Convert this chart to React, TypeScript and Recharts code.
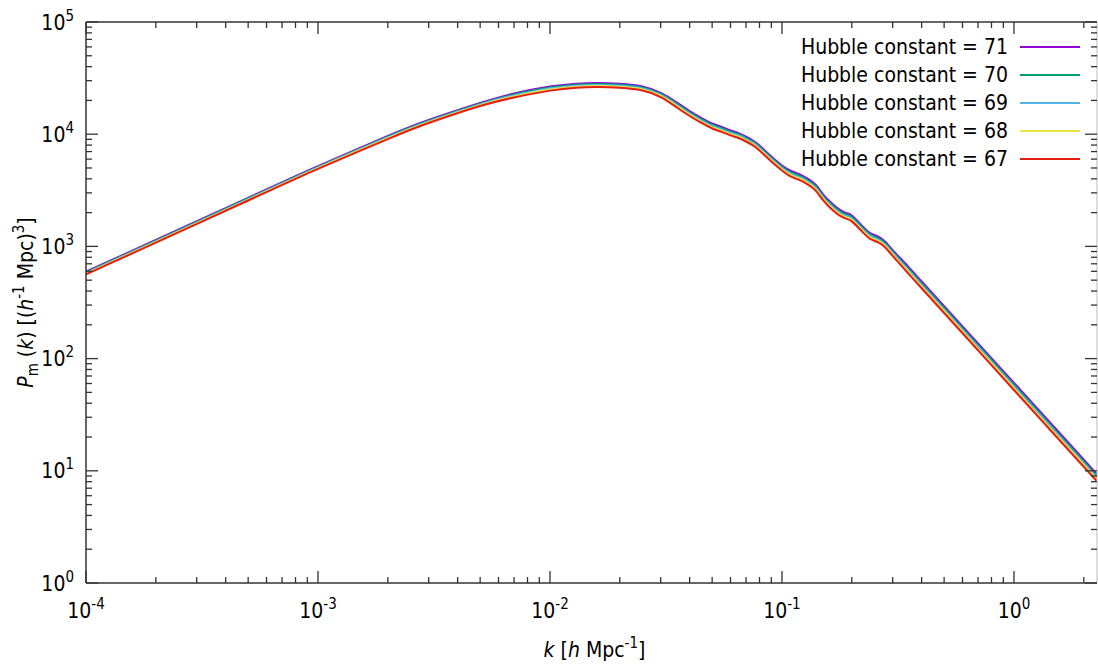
import React from "react";
import { LineChart, Line, XAxis, YAxis, Legend, Label } from "recharts";

// wavenumber k [h/Mpc]
const kValues = [
  1e-4, 2e-4, 5e-4, 1e-3, 2e-3, 3e-3, 5e-3, 7e-3, 1e-2, 1.3e-2, 1.6e-2, 2e-2,
  2.5e-2, 3e-2, 3.5e-2, 4e-2, 4.5e-2, 5e-2, 5.5e-2, 6e-2, 6.5e-2, 7e-2, 7.5e-2,
  8e-2, 9e-2, 0.1, 0.11, 0.12, 0.13, 0.14, 0.15, 0.16, 0.17, 0.18, 0.19, 0.2,
  0.22, 0.24, 0.26, 0.28, 0.3, 0.35, 0.4, 0.5, 0.7, 1.0, 1.5, 2.28,
];

// P_m(k) for each Hubble constant
const pk71 = [
  595, 1140, 2710, 5188, 9652, 13410, 19000, 23070, 26570, 28200, 28610, 28140,
  26630, 23310, 19360, 16090, 13930, 12450, 11590, 10790, 10230, 9528, 8791,
  7926, 6325, 5260, 4688, 4365, 3981, 3524, 2924, 2535, 2265, 2084, 1981, 1883,
  1549, 1315, 1222, 1091, 926.9, 660.3, 486.2, 292.8, 136.3, 60.83, 24.17, 9.34,
];
const pk70 = [
  587, 1124, 2673, 5117, 9497, 13190, 18700, 22590, 26020, 27630, 28020, 27560,
  26080, 22830, 18870, 15680, 13580, 12130, 11300, 10520, 9977, 9290, 8571,
  7728, 6167, 5129, 4550, 4236, 3864, 3420, 2838, 2461, 2198, 2023, 1923, 1828,
  1503, 1277, 1186, 1059, 899.5, 637.8, 469.7, 282.9, 131.7, 58.63, 23.29, 9.01,
];
const pk69 = [
  579, 1109, 2636, 5047, 9345, 12980, 18400, 22130, 25490, 27060, 27450, 27000,
  25550, 22360, 18400, 15290, 13240, 11830, 11020, 10260, 9727, 9057, 8356,
  7534, 6012, 5000, 4416, 4111, 3750, 3319, 2754, 2388, 2133, 1963, 1866, 1774,
  1459, 1239, 1151, 1028, 873, 616.2, 453.8, 273.3, 127.2, 56.51, 22.45, 8.68,
];
const pk68 = [
  571, 1094, 2600, 4978, 9195, 12770, 18110, 21680, 24970, 26510, 26890, 26450,
  25030, 21900, 17940, 14910, 12910, 11530, 10740, 10000, 9484, 8831, 8147,
  7346, 5862, 4875, 4286, 3990, 3639, 3221, 2673, 2318, 2070, 1905, 1811, 1722,
  1416, 1202, 1117, 997.7, 847.2, 595.3, 438.4, 264.0, 122.9, 54.46, 21.64, 8.37,
];
const pk67 = [
  563, 1079, 2564, 4909, 9049, 12570, 17820, 21230, 24450, 25960, 26340, 25900,
  24510, 21450, 17490, 14530, 12590, 11250, 10480, 9753, 9246, 8610, 7943,
  7162, 5715, 4753, 4159, 3872, 3532, 3126, 2594, 2249, 2009, 1849, 1758, 1671,
  1374, 1167, 1084, 968.3, 822.3, 575.1, 423.5, 255.1, 118.7, 52.5, 20.86, 8.06,
];

const hubble = [71, 70, 69, 68, 67];
const seriesKeys = ["h71", "h70", "h69", "h68", "h67"];
const colors = ["#9400d3", "#009e73", "#56b4e9", "#f0e442", "#e51e10"];

const xMajor = [1e-4, 1e-3, 1e-2, 1e-1, 1];
const xMajorExp = ["-4", "-3", "-2", "-1", "0"];
const yMajor = [1, 10, 100, 1e3, 1e4, 1e5];
const yMajorExp = ["0", "1", "2", "3", "4", "5"];
const minorSteps = [2, 3, 4, 5, 6, 7, 8, 9];

const X_MAX = 2.28;

const data = kValues.map((k, i) => ({
  k,
  h71: pk71[i],
  h70: pk70[i],
  h69: pk69[i],
  h68: pk68[i],
  h67: pk67[i],
}));

const withMinor = (majors: number[], max: number) => {
  const out: number[] = [];
  majors.forEach((m) => {
    out.push(m);
    minorSteps.forEach((s) => {
      if (m * s <= max) out.push(m * s);
    });
  });
  return out.filter((v) => v <= max);
};

const xTicks = withMinor(xMajor, X_MAX);
const yTicks = withMinor(yMajor, 1e5);

const FONT = "'DejaVu Sans Condensed', 'DejaVu Sans', sans-serif";
const AXIS = "#333";

const majorIndex = (v: number, list: number[]) =>
  list.findIndex((m) => Math.abs(m - v) / m < 1e-9);

function BottomTick({ x, y, payload }: any) {
  const i = majorIndex(payload.value, xMajor);
  const len = i >= 0 ? 12 : 6;
  return (
    <g>
      <line x1={x} y1={y} x2={x} y2={y - len} stroke={AXIS} strokeWidth={1.3} />
      {i >= 0 && (
        <text x={x} y={y + 35} textAnchor="middle" fontFamily={FONT} fontSize={21} fill="#000" style={{ fontStretch: "condensed" }}>
          10
          <tspan dy={-9} fontSize={15}>
            {xMajorExp[i]}
          </tspan>
        </text>
      )}
    </g>
  );
}

function TopTick({ x, y, payload }: any) {
  const len = majorIndex(payload.value, xMajor) >= 0 ? 12 : 6;
  return <line x1={x} y1={y} x2={x} y2={y + len} stroke={AXIS} strokeWidth={1.3} />;
}

function LeftTick({ x, y, payload }: any) {
  const i = majorIndex(payload.value, yMajor);
  const len = i >= 0 ? 12 : 6;
  return (
    <g>
      <line x1={x} y1={y} x2={x + len} y2={y} stroke={AXIS} strokeWidth={1.3} />
      {i >= 0 && (
        <text x={x - 12} y={y + 7.5} textAnchor="end" fontFamily={FONT} fontSize={21} fill="#000" style={{ fontStretch: "condensed" }}>
          10
          <tspan dy={-9} fontSize={15}>
            {yMajorExp[i]}
          </tspan>
        </text>
      )}
    </g>
  );
}

function RightTick({ x, y, payload }: any) {
  const len = majorIndex(payload.value, yMajor) >= 0 ? 12 : 6;
  return <line x1={x} y1={y} x2={x - len} y2={y} stroke={AXIS} strokeWidth={1.3} />;
}

function XTitle(props: any) {
  const vb = props.viewBox || { x: 86, width: 1011 };
  const cx = vb.x + vb.width / 2 + 3;
  return (
    <text x={cx} y={657} textAnchor="middle" fontFamily={FONT} fontSize={21} fill="#000" style={{ fontStretch: "condensed" }}>
      <tspan fontStyle="italic">k</tspan>
      <tspan> [</tspan>
      <tspan fontStyle="italic">h</tspan>
      <tspan> Mpc</tspan>
      <tspan dy={-9} fontSize={15}>-1</tspan>
      <tspan dy={9}>]</tspan>
    </text>
  );
}

function YTitle(props: any) {
  const vb = props.viewBox || { y: 22, height: 561 };
  const cy = vb.y + vb.height / 2;
  const cx = 33;
  return (
    <text x={cx} y={cy} textAnchor="middle" transform={`rotate(-90, ${cx}, ${cy})`} fontFamily={FONT} fontSize={21} fill="#000" style={{ fontStretch: "condensed" }}>
      <tspan fontStyle="italic">P</tspan>
      <tspan dy={5} fontSize={15}>m</tspan>
      <tspan dy={-5}> (</tspan>
      <tspan fontStyle="italic">k</tspan>
      <tspan>) [(</tspan>
      <tspan fontStyle="italic">h</tspan>
      <tspan dy={-9} fontSize={15}>-1</tspan>
      <tspan dy={9}> Mpc)</tspan>
      <tspan dy={-9} fontSize={15}>3</tspan>
      <tspan dy={9}>]</tspan>
    </text>
  );
}

function HubbleLegend() {
  return (
    <div style={{ fontFamily: FONT, fontStretch: "condensed", fontSize: 21, color: "#000" }}>
      {hubble.map((h, i) => (
        <div key={h} style={{ display: "flex", justifyContent: "flex-end", alignItems: "center", height: 28 }}>
          <span style={{ lineHeight: "28px" }}>Hubble constant = {h}</span>
          <span style={{ display: "inline-block", width: 60, height: 2, marginLeft: 12, background: colors[i] }} />
        </div>
      ))}
    </div>
  );
}

export default function App() {
  return (
    <div style={{ position: "absolute", left: 0, top: 0, background: "#fff" }}>
      <LineChart width={1098} height={664} data={data} margin={{ top: 2, right: 0, bottom: 0, left: 0 }}>
        <XAxis
          xAxisId="b"
          dataKey="k"
          type="number"
          scale="log"
          domain={[1e-4, X_MAX]}
          allowDataOverflow
          ticks={xTicks}
          interval={0}
          tickSize={0}
          tickMargin={0}
          tick={(p: any) => <BottomTick {...p} />}
          axisLine={{ stroke: AXIS, strokeWidth: 1.5 }}
          height={81}
        >
          <Label content={(p: any) => <XTitle {...p} />} />
        </XAxis>
        <XAxis
          xAxisId="t"
          orientation="top"
          dataKey="k"
          type="number"
          scale="log"
          domain={[1e-4, X_MAX]}
          allowDataOverflow
          ticks={xTicks}
          interval={0}
          tickSize={0}
          tickMargin={0}
          tick={(p: any) => <TopTick {...p} />}
          axisLine={{ stroke: AXIS, strokeWidth: 1.5 }}
          height={20}
        />
        <YAxis
          yAxisId="l"
          type="number"
          scale="log"
          domain={[1, 1e5]}
          allowDataOverflow
          ticks={yTicks}
          interval={0}
          tickSize={0}
          tickMargin={0}
          tick={(p: any) => <LeftTick {...p} />}
          axisLine={{ stroke: AXIS, strokeWidth: 1.5 }}
          width={86}
        >
          <Label content={(p: any) => <YTitle {...p} />} />
        </YAxis>
        <YAxis
          yAxisId="r"
          orientation="right"
          type="number"
          scale="log"
          domain={[1, 1e5]}
          allowDataOverflow
          ticks={yTicks}
          interval={0}
          tickSize={0}
          tickMargin={0}
          tick={(p: any) => <RightTick {...p} />}
          axisLine={{ stroke: "#bbb", strokeWidth: 1 }}
          width={1}
        />
        <Legend
          layout="horizontal"
          verticalAlign="middle"
          align="center"
          content={() => <HubbleLegend />}
          wrapperStyle={{ left: 780, top: 33, width: 300 }}
        />
        {seriesKeys.map((key, i) => (
          <Line
            key={key}
            xAxisId="b"
            yAxisId="l"
            dataKey={key}
            name={`Hubble constant = ${hubble[i]}`}
            type="natural"
            stroke={colors[i]}
            strokeWidth={2}
            dot={false}
            activeDot={false}
            isAnimationActive={false}
          />
        ))}
      </LineChart>
    </div>
  );
}
